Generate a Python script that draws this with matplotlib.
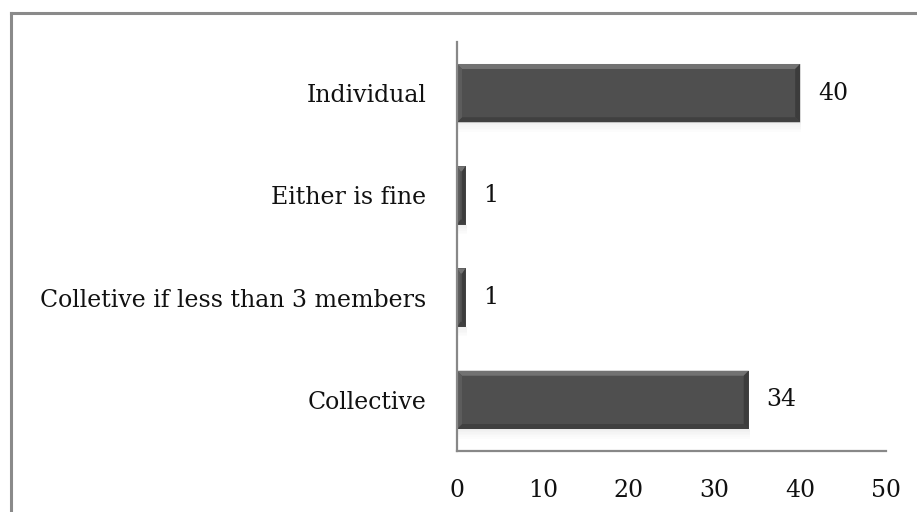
import matplotlib
matplotlib.use("Agg")
import matplotlib.pyplot as plt
from matplotlib.lines import Line2D
from matplotlib.patches import Polygon
import numpy as np

categories = ["Collective", "Colletive if less than 3 members", "Either is fine", "Individual"]
counts = [34, 1, 1, 40]
x_ticks = [0, 10, 20, 30, 40, 50]

FONT = "DejaVu Serif"
FS = 17.0
W, H, DPI = 917, 512, 100

fig = plt.figure(figsize=(W / DPI, H / DPI), dpi=DPI)
fig.patch.set_facecolor("white")

# outer frame (left and top edges visible)
frame_col = "#8a8a8a"
fig.add_artist(Line2D([11 / W, 11 / W], [0, 1 - 12.5 / H], transform=fig.transFigure,
                      color=frame_col, lw=2.2))
fig.add_artist(Line2D([11 / W, 1], [1 - 12.5 / H, 1 - 12.5 / H], transform=fig.transFigure,
                      color=frame_col, lw=2.2))

ax = fig.add_axes([457 / W, 61 / H, 429 / W, 409 / H])
ypos = np.arange(len(categories))
bar_h = 0.57

ax.set_xlim(0, 50)
ax.set_ylim(-0.5, len(categories) - 0.5)

# data units per pixel for bevel/shadow decorations
dx = 50 / 429
dy = len(categories) / 409

# soft shadow under each bar
for y, v in zip(ypos, counts):
    for k in range(6):
        ax.barh(y - bar_h / 2 - (k + 0.5) * dy * 1.6, v + 1.2 * dx, height=dy * 1.6,
                left=0, color="#000000", alpha=0.06 * (6 - k) / 6, zorder=1, linewidth=0)

bars = ax.barh(ypos, counts, height=bar_h, color="#4f4f4f", zorder=2, linewidth=0)

# bevel edges
bw = 5
for rect in bars:
    x0, y0 = rect.get_x(), rect.get_y()
    x1, y1 = x0 + rect.get_width(), y0 + rect.get_height()
    bx = min(bw * dx, rect.get_width() / 2.5)
    by = bw * dy
    top = Polygon([(x0, y1), (x1, y1), (x1 - bx, y1 - by), (x0 + bx, y1 - by)],
                  closed=True, color="#727272", zorder=3, lw=0)
    bottom = Polygon([(x0, y0), (x1, y0), (x1 - bx, y0 + by), (x0 + bx, y0 + by)],
                     closed=True, color="#404040", zorder=3, lw=0)
    left = Polygon([(x0, y0), (x0, y1), (x0 + bx, y1 - by), (x0 + bx, y0 + by)],
                   closed=True, color="#5c5c5c", zorder=3, lw=0)
    right = Polygon([(x1, y0), (x1, y1), (x1 - bx, y1 - by), (x1 - bx, y0 + by)],
                    closed=True, color="#3c3c3c", zorder=3, lw=0)
    for p in (top, bottom, left, right):
        ax.add_patch(p)

for y, v in zip(ypos, counts):
    ax.text(v + 18 * dx, y, str(v), va="center", ha="left",
            fontsize=FS, family=FONT, color="#111111")

ax.set_yticks(ypos)
ax.set_yticklabels(categories, fontsize=FS, family=FONT, color="#111111")
ax.set_xticks(x_ticks)
ax.set_xticklabels([str(t) for t in x_ticks], fontsize=FS, family=FONT, color="#111111")
ax.tick_params(axis="y", length=0, pad=22)
ax.tick_params(axis="x", length=0, pad=20)

for s in ("top", "right"):
    ax.spines[s].set_visible(False)
for s in ("left", "bottom"):
    ax.spines[s].set_color("#888888")
    ax.spines[s].set_linewidth(1.6)
    ax.spines[s].set_zorder(5)

fig.savefig("out.png", dpi=DPI, facecolor="white")
